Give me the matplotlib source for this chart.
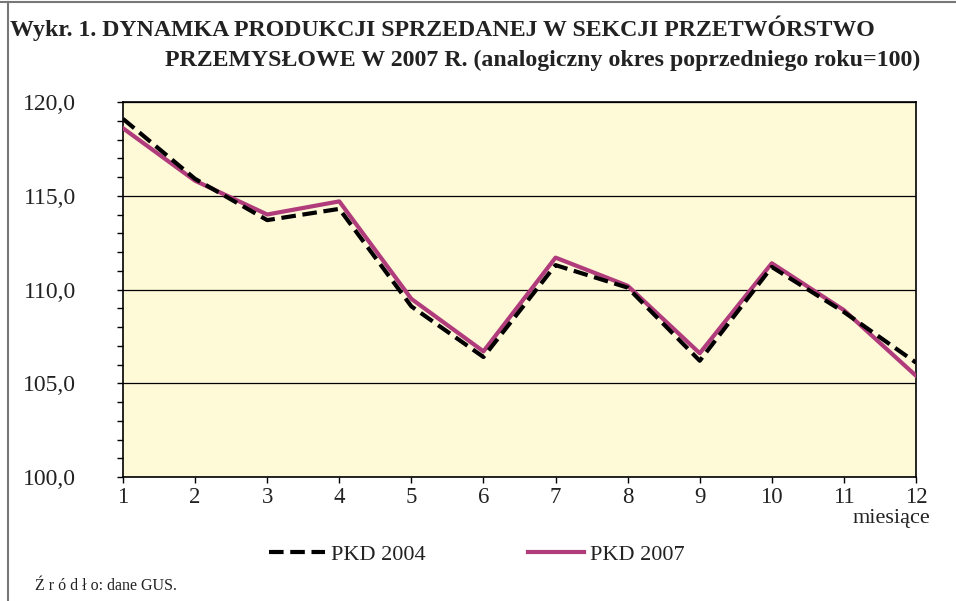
import matplotlib
matplotlib.use("Agg")
from matplotlib import pyplot as plt
from matplotlib.lines import Line2D
from matplotlib.ticker import MultipleLocator, FuncFormatter

# miesiące
months = [1, 2, 3, 4, 5, 6, 7, 8, 9, 10, 11, 12]
pkd_2004 = [119.1, 115.9, 113.7, 114.3, 109.1, 106.4, 111.3, 110.1, 106.2, 111.2, 108.8, 106.1]
pkd_2007 = [118.6, 115.8, 114.0, 114.7, 109.5, 106.7, 111.7, 110.2, 106.6, 111.4, 108.9, 105.4]

plt.rcParams["font.family"] = ["Liberation Serif", "DejaVu Serif"]

fig = plt.figure(figsize=(9.56, 6.01), dpi=100)
ax = fig.add_axes([123 / 956, 1 - 477 / 601, (916 - 123) / 956, (477 - 102) / 601])
ax.set_facecolor("#FEF9D7")

ax.plot(months, pkd_2007, color="#B03C7C", linewidth=3, label="PKD 2007", zorder=3)
ax.plot(months, pkd_2004, color="black", linewidth=3, linestyle=(0, (3.5, 1.6)),
        label="PKD 2004", zorder=4)

ax.set_xlim(1, 12)
ax.set_ylim(100, 120)
ax.set_xticks(months)
ax.yaxis.set_major_locator(MultipleLocator(5))
ax.yaxis.set_minor_locator(MultipleLocator(1))
ax.yaxis.set_major_formatter(FuncFormatter(lambda v, p: f"{v:.1f}".replace(".", ",")))
ax.grid(axis="y", which="major", color="black", linewidth=0.9)
ax.set_axisbelow(True)

ax.tick_params(axis="y", which="both", direction="out", length=4, width=1, labelsize=17, pad=30,
               colors="black", labelcolor="#222222")
ax.tick_params(axis="x", direction="out", length=4, width=1, labelsize=16.5, pad=3,
               labelcolor="#222222")
for sp in ax.spines.values():
    sp.set_color("black")
    sp.set_linewidth(1.2)

fig.text(930 / 956, 1 - 518 / 601, "miesiące", ha="right", va="center", fontsize=16, color="#222222")

# legenda
handles = [
    Line2D([], [], color="black", linewidth=3, linestyle=(0, (3.5, 1.6))),
    Line2D([], [], color="#B03C7C", linewidth=3),
]
fig.legend(handles, ["PKD 2004", "PKD 2007"], loc="center", bbox_to_anchor=(477 / 956, 1 - 555 / 601),
           ncol=2, frameon=False, fontsize=16, handlelength=2.5, handletextpad=0.3,
           columnspacing=4.6, labelcolor="#222222")

fig.text(10 / 956, 1 - 36 / 601, "Wykr. 1. DYNAMKA PRODUKCJI SPRZEDANEJ W SEKCJI PRZETWÓRSTWO",
         ha="left", va="baseline", fontsize=17.2, fontweight="bold", color="#222222")
fig.text(920 / 956, 1 - 66 / 601, "PRZEMYSŁOWE W 2007 R. (analogiczny okres poprzedniego roku=100)",
         ha="right", va="baseline", fontsize=17.2, fontweight="bold", color="#222222")

fig.text(35 / 956, 1 - 586 / 601, "Ź r ó d ł o: dane GUS.", ha="left", va="center",
         fontsize=11.5, color="#222222")

# ramka
fig.add_artist(Line2D([0, 1], [1 - 2 / 601, 1 - 2 / 601], transform=fig.transFigure,
                      color="#777777", linewidth=1.5))
fig.add_artist(Line2D([8 / 956, 8 / 956], [0, 1 - 2 / 601], transform=fig.transFigure,
                      color="#777777", linewidth=1.5))

fig.savefig("out.png", dpi=100)
